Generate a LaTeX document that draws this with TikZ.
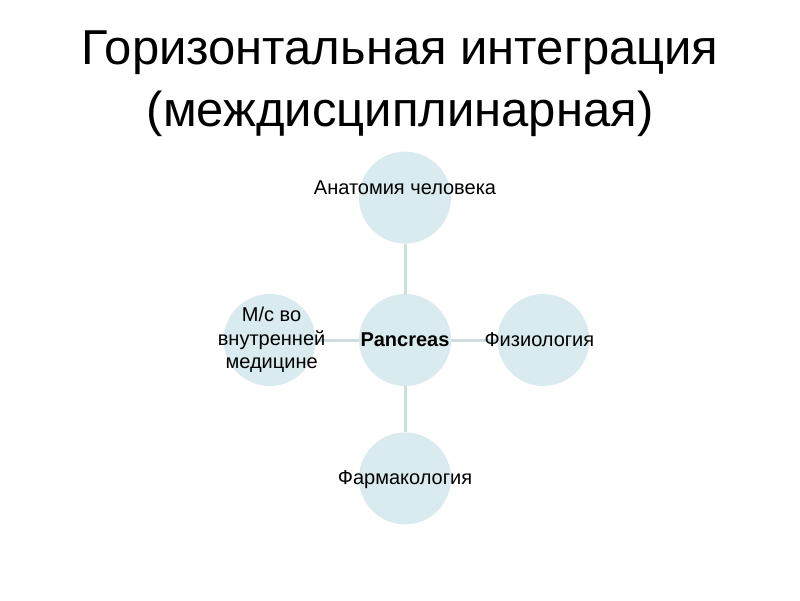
\documentclass[tikz,border=0pt]{standalone}
\usepackage{fontspec}
\setmainfont{Liberation Sans}
\usetikzlibrary{positioning}
\definecolor{bubblefill}{RGB}{217,235,238}
\definecolor{spokeline}{RGB}{205,221,224}
\tikzset{
    tnode/.style = {align=center, inner sep=0pt, text centered},
    bubble/.style = {circle, fill=bubblefill, minimum size=92pt, inner sep=0pt},
    topic/.style = {tnode, font=\fontsize{20}{23.5}\selectfont},
    heading/.style = {tnode, anchor=base, font=\fontsize{49}{60}\selectfont},
    spoke/.style = {draw=spokeline, line width=3pt}
}

\begin{document}
\begin{tikzpicture}[x=1pt, y=-1pt, node distance=46pt]
    \useasboundingbox (0,0) rectangle (800,600);

    % title
    \node [heading] (title1) at (400,64) {Горизонтальная интеграция};
    \node [heading] (title2) at (400,126) {(междисциплинарная)};

    % circles
    \node [bubble] (core) at (405,340) {};
    \node [bubble, above=50pt of core] (anatomy) {};
    \node [bubble, right=46pt of core] (physio) {};
    \node [bubble, below=46pt of core] (pharma) {};
    \node [bubble, left=43pt of core] (medic) {};

    % connectors
    \draw [spoke] (anatomy) -- (core);
    \draw [spoke] (core) -- (physio);
    \draw [spoke] (core) -- (pharma);
    \draw [spoke] (core) -- (medic);

    % texts
    \node [topic, font=\fontsize{20}{23.5}\selectfont\bfseries] (coretext) at (core) {Pancreas};
    \node [topic] (anatomytext) at ([yshift=10pt]anatomy.center) {Анатомия человека};
    \node [topic] (physiotext) at ([xshift=-4pt]physio.center) {Физиология};
    \node [topic] (pharmatext) at ([yshift=-1pt]pharma.center) {Фармакология};
    \node [topic] (medictext) at ([xshift=2pt]medic.center) {М/с во\\внутренней\\медицине};
\end{tikzpicture}
\end{document}
